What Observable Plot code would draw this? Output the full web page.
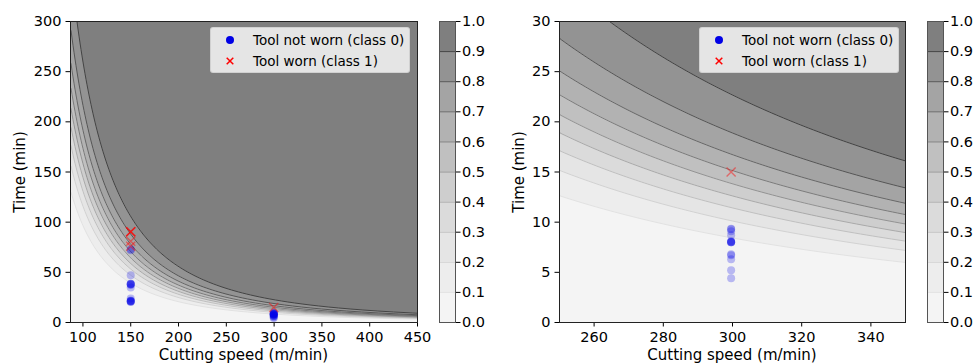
<!DOCTYPE html>
<html>
<head>
<meta charset="utf-8">
<script src="https://cdn.jsdelivr.net/npm/d3@7"></script>
<script src="https://cdn.jsdelivr.net/npm/@observablehq/plot@0.6"></script>
<style>
  html, body { margin: 0; padding: 0; background: #fff; overflow: hidden; }
  #root { position: relative; width: 974px; height: 364px; overflow: hidden; font-family: "DejaVu Sans", sans-serif; color: #000; }
  #root svg text { font-family: "DejaVu Sans", sans-serif; font-size: 14.5px; fill: #000; }
  .abs { position: absolute; top: 0; }
  .legend { position: absolute; box-sizing: border-box; background: rgba(255,255,255,0.8);
            border: 1px solid rgba(204,204,204,0.8); border-radius: 3px; font-size: 13.5px; color: #000; }
  .legend .row { position: absolute; left: 0; height: 20px; line-height: 20px; white-space: nowrap; }
  .legend .row span { position: absolute; left: 42px; top: 0; }
  .legend svg { position: absolute; left: 12px; top: 3px; }
  .xlab { position: absolute; font-size: 15px; line-height: 15px; white-space: nowrap; transform: translateX(-50%); }
  .ylab { position: absolute; font-size: 15px; line-height: 15px; white-space: nowrap; transform: translate(-50%, -50%) rotate(-90deg); }
</style>
</head>
<body>
<div id="root"></div>
<script>
// ---------------- data ----------------
// Observations: tool not worn (class 0)
const notWornSpeed = [150,150,150,150,150,150,150,150,150,150,150,150,150,150,150,150,
                      299.6,299.6,299.6,299.6,299.6,299.6,299.6,299.6,299.6,299.6,299.6,299.6,299.6,299.6];
const notWornTime  = [20.5,21,21,21.5,21.5,22,24,35,37.5,38,38,38.5,38.5,47,72,73,
                      4.4,5.2,6.3,6.7,6.8,8.0,8.0,8.0,8.05,8.1,8.7,9.1,9.3,9.35];
// Observations: tool worn (class 1)
const wornSpeed = [150,150,150,150,150,299.6];
const wornTime  = [90.5,90.5,90.5,81,76,15];

// Fitted logistic model: logit = a + b*ln(speed) + c*ln(time)
const modelIntercept = -67.9;
const modelLnSpeed = 9.86;
const modelLnTime = 4.44;

// Probability levels and colour-bar ticks
const probLevels = [0, 0.1, 0.2, 0.3, 0.4, 0.5, 0.6, 0.7, 0.8, 0.9, 1.0];
const colorbarTicks = [0, 0.1, 0.2, 0.3, 0.4, 0.5, 0.6, 0.7, 0.8, 0.9, 1.0];

// Axis ticks and extents
const leftSpeedTicks = [100, 150, 200, 250, 300, 350, 400, 450];
const leftTimeTicks = [0, 50, 100, 150, 200, 250, 300];
const rightSpeedTicks = [260, 280, 300, 320, 340];
const rightTimeTicks = [0, 5, 10, 15, 20, 25, 30];
const leftSpeedDomain = [87, 450];
const leftTimeDomain = [0, 300];
const rightSpeedDomain = [250, 350];
const rightTimeDomain = [0, 30];

const legendLabels = ["Tool not worn (class 0)", "Tool worn (class 1)"];
const xLabel = "Cutting speed (m/min)";
const yLabel = "Time (min)";

// ---------------- styles ----------------
const bandFills = ["#f4f4f4", "#ededed", "#e5e5e5", "#dbdbdb", "#cecece", "#c0c0c0", "#b2b2b2", "#a4a4a4", "#939393", "#7f7f7f"];
const lineStrokes = ["#e2e2e2", "#d2d2d2", "#c0c0c0", "#aaaaaa", "#939393", "#7c7c7c", "#686868", "#565656", "#444444"];
const blue = "#0000e6";
const red = "#ff0000";

function prob(v, t) {
  const z = modelIntercept + modelLnSpeed * Math.log(v) + modelLnTime * Math.log(Math.max(t, 1e-9));
  return 1 / (1 + Math.exp(-z));
}

const notWorn = notWornSpeed.map((s, i) => ({speed: s, time: notWornTime[i]}));
const worn = wornSpeed.map((s, i) => ({speed: s, time: wornTime[i]}));

const baseStyle = {fontFamily: "DejaVu Sans", fontSize: "14.5px", background: "transparent", color: "#000", overflow: "visible"};

function panel(opts) {
  const {width, marginLeft, marginRight, xDomain, yDomain, xTicks, yTicks} = opts;
  const marks = [Plot.frame({fill: bandFills[0], stroke: "none"})];
  for (let i = 1; i <= 9; i++) {
    marks.push(Plot.contour({
      value: prob,
      x1: xDomain[0], x2: xDomain[1], y1: yDomain[0], y2: yDomain[1],
      thresholds: [probLevels[i]],
      fill: bandFills[i],
      stroke: lineStrokes[i - 1],
      strokeWidth: 1,
      pixelSize: 1
    }));
  }
  marks.push(Plot.dot(notWorn, {x: "speed", y: "time", r: 4, fill: blue, fillOpacity: 0.25, stroke: "none", clip: true}));
  marks.push(Plot.dot(worn, {x: "speed", y: "time", r: 4.2, symbol: "times", stroke: red, strokeOpacity: 0.45, strokeWidth: 1.4, clip: true}));
  marks.push(Plot.frame({stroke: "#222", strokeWidth: 1}));
  return Plot.plot({
    width, height: 364, marginLeft, marginRight, marginTop: 21, marginBottom: 42,
    style: baseStyle,
    x: {domain: xDomain, ticks: xTicks, tickSize: 4.5, tickPadding: 5, tickFormat: d3.format("d"), label: null},
    y: {domain: yDomain, ticks: yTicks, tickSize: 4.5, tickPadding: 4.5, tickFormat: d3.format("d"), label: null},
    marks
  });
}

function colorbar() {
  const bands = bandFills.map((c, i) => ({lo: probLevels[i], hi: probLevels[i + 1], color: c}));
  const lines = lineStrokes.map((c, i) => ({level: probLevels[i + 1], color: c}));
  return Plot.plot({
    width: 58, height: 364, marginLeft: 10, marginRight: 32, marginTop: 21, marginBottom: 42,
    style: baseStyle,
    color: {type: "identity"},
    y: {domain: [0, 1], axis: "right", ticks: colorbarTicks, tickFormat: d3.format(".1f"), tickSize: 4.5, tickPadding: 2, label: null},
    marks: [
      Plot.rect(bands, {y1: "lo", y2: "hi", fill: "color"}),
      Plot.ruleY(lines, {y: "level", stroke: "color", strokeWidth: 1}),
      Plot.frame({stroke: "#555", strokeWidth: 1})
    ]
  });
}

function legend(left, top) {
  const div = document.createElement("div");
  div.className = "legend";
  div.style.left = left + "px";
  div.style.top = top + "px";
  div.style.width = "200px";
  div.style.height = "46px";
  const rows = [
    {y: 2, svg: `<svg width="14" height="14" viewBox="-7 -7 14 14"><circle r="4" fill="${blue}"/></svg>`},
    {y: 23, svg: `<svg width="14" height="14" viewBox="-7 -7 14 14"><path d="M-3.3,-3.3L3.3,3.3M-3.3,3.3L3.3,-3.3" stroke="${red}" stroke-width="1.5"/></svg>`}
  ];
  rows.forEach((r, i) => {
    const row = document.createElement("div");
    row.className = "row";
    row.style.top = r.y + "px";
    row.innerHTML = r.svg + `<span>${legendLabels[i]}</span>`;
    div.appendChild(row);
  });
  return div;
}

function label(cls, text, left, top) {
  const d = document.createElement("div");
  d.className = cls;
  d.textContent = text;
  d.style.left = left + "px";
  d.style.top = top + "px";
  root.appendChild(d);
}

const root = document.getElementById("root");
function place(el, left) { el.classList.add("abs"); el.style.left = left + "px"; root.appendChild(el); }

place(panel({width: 429, marginLeft: 70, marginRight: 12, xDomain: leftSpeedDomain, yDomain: leftTimeDomain,
             xTicks: leftSpeedTicks, yTicks: leftTimeTicks}), 0);
place(colorbar(), 429);
place(panel({width: 430, marginLeft: 72, marginRight: 12, xDomain: rightSpeedDomain, yDomain: rightTimeDomain,
             xTicks: rightSpeedTicks, yTicks: rightTimeTicks}), 487);
place(colorbar(), 917);
root.appendChild(legend(210, 27));
root.appendChild(legend(699, 27));
label("xlab", xLabel, 243.5, 347.5);
label("xlab", xLabel, 732, 347.5);
label("ylab", yLabel, 19.5, 172);
label("ylab", yLabel, 519, 172);
</script>
</body>
</html>
